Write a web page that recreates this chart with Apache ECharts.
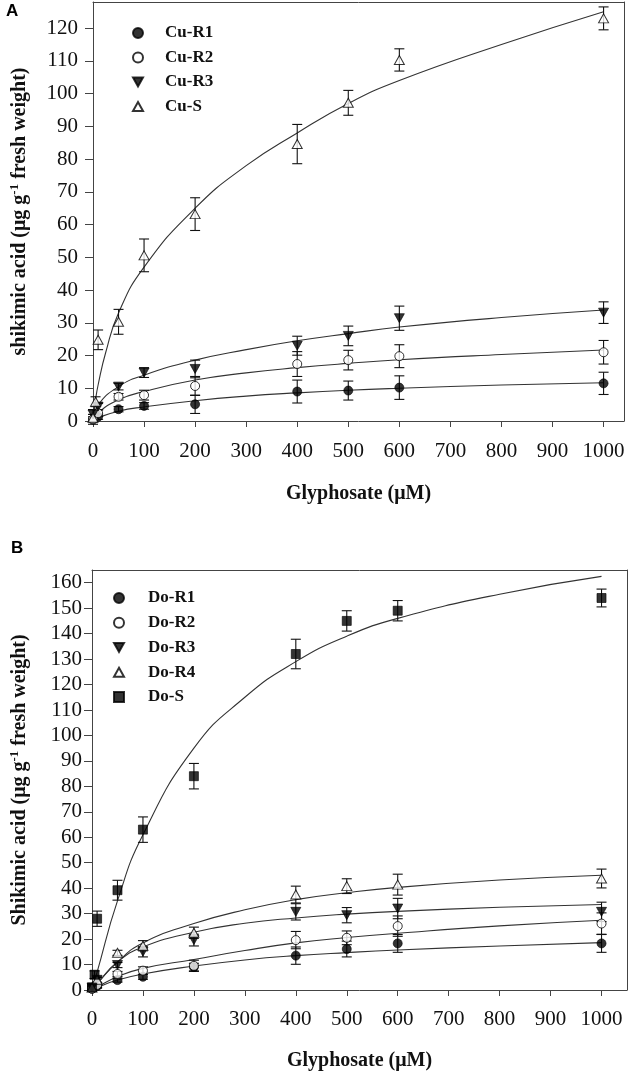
<!DOCTYPE html>
<html>
<head>
<meta charset="utf-8">
<script src="https://cdn.jsdelivr.net/npm/echarts@6/dist/echarts.min.js"></script>
<style>
html,body{margin:0;padding:0;background:#fff;}
#chart{width:630px;height:1077px;}
</style>
</head>
<body>
<div id="chart"></div>
<script>
// ---------- Panel A data ----------
const doseA = [0, 10, 50, 100, 200, 400, 500, 600, 1000];
const doseAS = [0, 5, 10, 50, 100, 200, 400, 500, 600, 1000];
const cuR1 = [0.5, 1.3, 3.6, 4.6, 5.1, 9.0, 9.3, 10.2, 11.5];
const cuR1Sd = [0.8, 0.8, 0.8, 1.0, 2.8, 3.5, 2.9, 3.6, 3.4];
const cuR2 = [0.5, 2.4, 7.4, 7.9, 10.7, 17.4, 18.6, 19.8, 21.0];
const cuR2Sd = [1.5, 1.0, 1.0, 1.5, 2.9, 3.8, 3.0, 3.5, 3.6];
const cuR3 = [2.0, 4.4, 10.5, 14.8, 15.9, 23.0, 26.0, 31.4, 33.1];
const cuR3Sd = [1.5, 1.0, 1.0, 1.5, 2.7, 2.9, 3.0, 3.7, 3.3];
const cuS = [1.0, 5.9, 24.8, 30.3, 50.6, 63.2, 84.6, 97.2, 110.3, 123.0];
const cuSSd = [1.0, 1.5, 3.0, 3.8, 5.0, 5.0, 6.0, 3.8, 3.4, 3.5];

// fitted curves
const fitXA = [0, 10, 50, 100, 200, 300, 400, 500, 600, 800, 1000];
const cuR1Fit = [0, 1.0, 3.0, 4.3, 6.2, 7.6, 8.6, 9.4, 10.0, 11.0, 11.7];
const cuR2Fit = [0, 2.5, 6.5, 9.0, 12.5, 14.7, 16.3, 17.6, 18.7, 20.3, 21.7];
const cuR3Fit = [0, 4.9, 10.5, 14.0, 18.6, 21.8, 24.5, 26.7, 28.7, 31.6, 33.9];
const fitXAS = [0, 5, 10, 25, 50, 100, 200, 300, 400, 500, 600, 800, 1000];
const cuSFit = [0, 6.5, 11, 21, 33, 47, 65, 78, 88, 97, 104, 115, 125];

// ---------- Panel B data ----------
const doseB = [0, 10, 50, 100, 200, 400, 500, 600, 1000];
const doseBS = [0, 5, 10, 50, 100, 200, 400, 500, 600, 1000];
const doR1 = [0.5, 1.5, 3.9, 5.2, 9.0, 13.5, 16.1, 18.3, 18.3];
const doR1Sd = [0.8, 0.8, 0.8, 1.0, 1.5, 3.4, 3.1, 3.5, 3.5];
const doR2 = [0.5, 2.0, 6.3, 7.6, 9.5, 19.6, 20.5, 25.1, 26.1];
const doR2Sd = [1.0, 1.0, 1.0, 1.5, 2.2, 3.4, 2.7, 4.0, 4.2];
const doR3 = [1.0, 4.0, 9.8, 15.0, 19.6, 30.7, 29.4, 32.0, 30.7];
const doR3Sd = [1.0, 1.0, 1.0, 2.0, 2.3, 3.2, 3.0, 4.0, 3.8];
const doR4 = [1.0, 4.0, 14.6, 17.4, 22.5, 37.5, 40.8, 41.4, 43.8];
const doR4Sd = [1.0, 1.0, 1.0, 2.0, 2.2, 3.3, 2.9, 4.1, 3.7];
const doS = [1.0, 6.0, 28.0, 39.2, 63.0, 84.0, 132.0, 145.0, 149.0, 154.0];
const doSSd = [1.0, 1.5, 3.0, 3.9, 5.0, 5.0, 5.8, 4.0, 4.0, 3.5];

const fitXB = [0, 10, 50, 100, 200, 300, 400, 500, 600, 800, 1000];
const doR1Fit = [0, 1.0, 3.9, 6.3, 9.4, 11.8, 13.5, 14.7, 15.7, 17.3, 18.6];
const doR2Fit = [0, 1.2, 5.2, 8.5, 12.0, 15.5, 18.5, 20.6, 22.3, 25.2, 27.4];
const doR3Fit = [0, 2.5, 11.0, 16.9, 22.7, 26.2, 28.3, 29.8, 30.9, 32.5, 33.6];
const doR4Fit = [0, 2.5, 11.0, 18.5, 26.1, 31.5, 35.5, 38.2, 40.3, 43.2, 45.1];
const fitXBS = [0, 10, 50, 100, 200, 300, 400, 500, 600, 800, 1000];
const doSFit = [0, 7, 35, 61, 95, 115, 129, 139, 146, 155.5, 162.5];

// tick labels
const xTicks = [0, 100, 200, 300, 400, 500, 600, 700, 800, 900, 1000];
const yTicksA = [0, 10, 20, 30, 40, 50, 60, 70, 80, 90, 100, 110, 120];
const yTicksB = [0, 10, 20, 30, 40, 50, 60, 70, 80, 90, 100, 110, 120, 130, 140, 150, 160];

// ---------- helpers ----------
const SERIF = '"Liberation Serif", "Times New Roman", "DejaVu Serif", serif';
const DOWN_TRI = 'path://M0,0 L10,0 L5,9 Z';
const UP_TRI = 'path://M5,0 L10,9 L0,9 Z';

function zip2(xs, ys) { return xs.map((x, i) => [x, ys[i]]); }
function zip3(xs, ys, es) { return xs.map((x, i) => [x, ys[i], es[i]]); }

function errRender(params, api) {
  const x = api.value(0), y = api.value(1), e = api.value(2);
  if (!e) return null;
  const p0 = api.coord([x, y - e]);
  const p1 = api.coord([x, y + e]);
  const w = 5;
  const st = { stroke: '#111', lineWidth: 1.1 };
  return {
    type: 'group',
    children: [
      { type: 'line', shape: { x1: p0[0], y1: p0[1], x2: p1[0], y2: p1[1] }, style: st },
      { type: 'line', shape: { x1: p0[0] - w, y1: p0[1], x2: p0[0] + w, y2: p0[1] }, style: st },
      { type: 'line', shape: { x1: p1[0] - w, y1: p1[1], x2: p1[0] + w, y2: p1[1] }, style: st }
    ]
  };
}

function errSeries(xi, yi, xs, ys, es) {
  return {
    type: 'custom', xAxisIndex: xi, yAxisIndex: yi,
    renderItem: errRender, data: zip3(xs, ys, es),
    encode: { x: 0, y: 1 }, z: 2, silent: true, clip: false
  };
}
function fitSeries(xi, yi, xs, ys) {
  return {
    type: 'line', xAxisIndex: xi, yAxisIndex: yi, data: zip2(xs, ys),
    symbol: 'none', smooth: 0.5,
    lineStyle: { color: '#333', width: 1.1 }, z: 1, silent: true
  };
}
function ptSeries(name, xi, yi, xs, ys, symbol, size, filled) {
  return {
    name: name, type: 'scatter', xAxisIndex: xi, yAxisIndex: yi,
    data: zip2(xs, ys), symbol: symbol, symbolSize: size,
    itemStyle: filled ? { color: '#000', borderColor: '#000', borderWidth: 0.8 }
                      : { color: '#fff', borderColor: '#000', borderWidth: 1 },
    z: 3, clip: false
  };
}

function plainNum(v) { return String(v); }

function xAxisPair(gi, max) {
  return [
    {
      type: 'value', gridIndex: gi, min: 0, max: max, position: 'bottom',
      name: 'Glyphosate (μM)', nameLocation: 'middle', nameGap: gi === 0 ? 63 : 61,
      nameTextStyle: { fontFamily: SERIF, fontWeight: 'bold', fontSize: 20, color: '#111' },
      axisLine: { show: true, onZero: false, lineStyle: { color: '#444', width: 1 } },
      axisTick: { show: true, inside: false, length: 6, customValues: xTicks, lineStyle: { color: '#444' } },
      axisLabel: { customValues: xTicks, formatter: plainNum, margin: gi === 0 ? 20 : 19, fontFamily: SERIF, fontSize: 21, color: '#111' },
      splitLine: { show: false }
    },
    {
      type: 'value', gridIndex: gi, min: 0, max: max, position: 'top',
      axisLine: { show: true, onZero: false, lineStyle: { color: '#444', width: 1 } },
      axisTick: { show: false }, axisLabel: { show: false }, splitLine: { show: false }
    }
  ];
}

function yAxisPair(gi, max, ticks, name, gap, margin) {
  return [
    {
      type: 'value', gridIndex: gi, min: 0, max: max, position: 'left',
      name: name, nameLocation: 'middle', nameGap: gap, nameRotate: 90,
      nameTextStyle: {
        color: '#111',
        rich: {
          b: { fontFamily: SERIF, fontWeight: 'bold', fontSize: 20, color: '#111', lineHeight: 24 },
          s: { fontFamily: SERIF, fontWeight: 'bold', fontSize: 13, color: '#111', lineHeight: 24, verticalAlign: 'top' }
        }
      },
      axisLine: { show: true, onZero: false, lineStyle: { color: '#444', width: 1 } },
      axisTick: { show: true, inside: false, length: 8, customValues: ticks, lineStyle: { color: '#444' } },
      axisLabel: { customValues: ticks, formatter: plainNum, margin: margin, fontFamily: SERIF, fontSize: 21, color: '#111' },
      splitLine: { show: false }
    },
    {
      type: 'value', gridIndex: gi, min: 0, max: max, position: 'right',
      axisLine: { show: true, onZero: false, lineStyle: { color: '#444', width: 1 } },
      axisTick: { show: false }, axisLabel: { show: false }, splitLine: { show: false }
    }
  ];
}

const chart = echarts.init(document.getElementById('chart'), null, { renderer: 'canvas' });

const option = {
  animation: false,
  backgroundColor: '#fff',
  title: [
    { text: 'A', left: 6, top: 3, padding: 0,
      textStyle: { fontFamily: '"Liberation Sans", Arial, sans-serif', fontWeight: 'bold', fontSize: 17, color: '#000' } },
    { text: 'B', left: 11, top: 540, padding: 0,
      textStyle: { fontFamily: '"Liberation Sans", Arial, sans-serif', fontWeight: 'bold', fontSize: 17, color: '#000' } }
  ],
  legend: [
    {
      data: ['Cu-R1', 'Cu-R2', 'Cu-R3', 'Cu-S'],
      orient: 'vertical', left: 132, top: 24.5, padding: 0,
      itemWidth: 10, itemHeight: 10, itemGap: 7.5,
      textStyle: { fontFamily: SERIF, fontWeight: 'bold', fontSize: 17, color: '#111', lineHeight: 17, padding: [0, 0, 0, 17] },
      selectedMode: false
    },
    {
      data: ['Do-R1', 'Do-R2', 'Do-R3', 'Do-R4', 'Do-S'],
      orient: 'vertical', left: 113, top: 589.5, padding: 0,
      itemWidth: 10, itemHeight: 10, itemGap: 7.75,
      textStyle: { fontFamily: SERIF, fontWeight: 'bold', fontSize: 17, color: '#111', lineHeight: 17, padding: [0, 0, 0, 19] },
      selectedMode: false
    }
  ],
  grid: [
    { left: 93, top: 2, width: 531, height: 419, containLabel: false },
    { left: 88, top: 570, width: 539, height: 420, containLabel: false }
  ],
  xAxis: [].concat(xAxisPair(0, 1040), xAxisPair(1, 1050)),
  yAxis: [].concat(
    yAxisPair(0, 128, yTicksA, '{b|shikimic acid (μg g}{s|-1}{b| fresh weight)}', 61, 15),
    yAxisPair(1, 165, yTicksB, '{b|Shikimic acid (μg g}{s|-1}{b| fresh weight)}', 60, 10)
  ),
  series: [
    fitSeries(0, 0, fitXA, cuR1Fit),
    fitSeries(0, 0, fitXA, cuR2Fit),
    fitSeries(0, 0, fitXA, cuR3Fit),
    fitSeries(0, 0, fitXAS, cuSFit),
    errSeries(0, 0, doseA, cuR1, cuR1Sd),
    errSeries(0, 0, doseA, cuR2, cuR2Sd),
    errSeries(0, 0, doseA, cuR3, cuR3Sd),
    errSeries(0, 0, doseAS, cuS, cuSSd),
    ptSeries('Cu-R1', 0, 0, doseA, cuR1, 'circle', 9, true),
    ptSeries('Cu-R2', 0, 0, doseA, cuR2, 'circle', 9, false),
    ptSeries('Cu-R3', 0, 0, doseA, cuR3, DOWN_TRI, [10, 9], true),
    ptSeries('Cu-S', 0, 0, doseAS, cuS, UP_TRI, [10, 9], false),

    fitSeries(2, 2, fitXB, doR1Fit),
    fitSeries(2, 2, fitXB, doR2Fit),
    fitSeries(2, 2, fitXB, doR3Fit),
    fitSeries(2, 2, fitXB, doR4Fit),
    fitSeries(2, 2, fitXBS, doSFit),
    errSeries(2, 2, doseB, doR1, doR1Sd),
    errSeries(2, 2, doseB, doR2, doR2Sd),
    errSeries(2, 2, doseB, doR3, doR3Sd),
    errSeries(2, 2, doseB, doR4, doR4Sd),
    errSeries(2, 2, doseBS, doS, doSSd),
    ptSeries('Do-R1', 2, 2, doseB, doR1, 'circle', 9, true),
    ptSeries('Do-R2', 2, 2, doseB, doR2, 'circle', 9, false),
    ptSeries('Do-R3', 2, 2, doseB, doR3, DOWN_TRI, [10, 9], true),
    ptSeries('Do-R4', 2, 2, doseB, doR4, UP_TRI, [10, 9], false),
    ptSeries('Do-S', 2, 2, doseBS, doS, 'rect', 9, true)
  ]
};

chart.setOption(option);
</script>
</body>
</html>
